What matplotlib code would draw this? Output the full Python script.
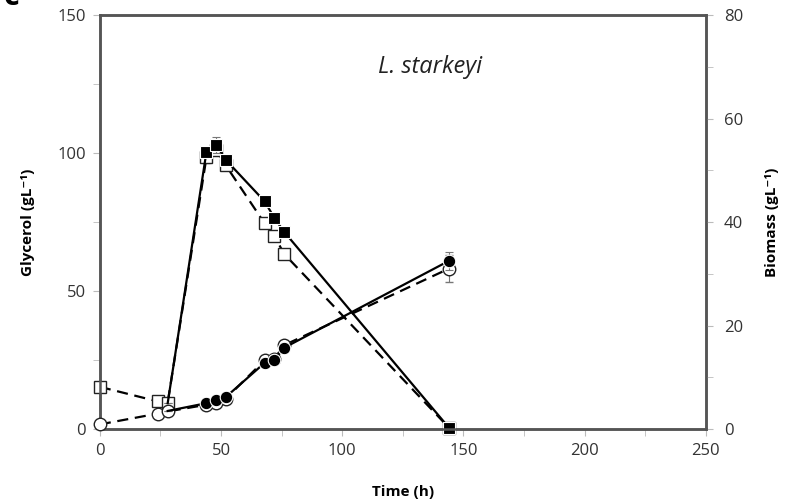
import matplotlib
matplotlib.use("Agg")
import matplotlib.pyplot as plt
from matplotlib.ticker import MultipleLocator

plt.rcParams['font.family'] = ['Open Sans', 'DejaVu Sans']

# glycerol, filled squares (solid line)
time_gly_fill = [28, 44, 48, 52, 68, 72, 76, 144]
gly_fill = [9.4, 100.5, 103.0, 97.5, 82.5, 76.5, 71.5, 0.5]
gly_fill_err = [0, 0, 3.0, 0, 0, 0, 0, 0]

# glycerol, open squares (dashed line)
time_gly_open = [0, 24, 28, 44, 48, 52, 68, 72, 76, 144]
gly_open = [15.3, 10.0, 9.6, 98.5, 101.0, 95.5, 74.5, 70.0, 63.5, 0.5]
gly_open_err = [0, 0, 0, 2.0, 0, 0, 0, 0, 0, 0]

# biomass, filled circles (solid line)
time_bio_fill = [28, 44, 48, 52, 68, 72, 76, 144]
bio_fill = [3.5, 5.0, 5.6, 6.2, 12.8, 13.3, 15.7, 32.5]
bio_fill_err = [0, 0, 0, 0, 0, 0, 0, 1.8]

# biomass, open circles (dashed line)
time_bio_open = [0, 24, 28, 44, 48, 52, 68, 72, 76, 144]
bio_open = [0.9, 3.0, 3.4, 4.7, 5.1, 5.9, 13.3, 13.6, 16.2, 31.0]
bio_open_err = [0, 0, 0, 0, 0, 0, 0, 0, 0, 2.6]

fig = plt.figure(figsize=(7.86, 5.03), dpi=100)
ax = fig.add_axes([0.127, 0.147, 0.771, 0.823])
ax2 = ax.twinx()

ms = 9
dash = (0, (5, 3))
ecol = '#777777'


def no_clip(container):
    for part in container.get_children():
        part.set_clip_on(False)


no_clip(ax.errorbar(time_gly_open, gly_open, yerr=gly_open_err, color='black', lw=1.6,
                    ls=dash, marker='s', ms=ms, mfc='white', mec='#222222', mew=1,
                    ecolor=ecol, elinewidth=0.8, capsize=3, zorder=3))
no_clip(ax.errorbar(time_gly_fill, gly_fill, yerr=gly_fill_err, color='black', lw=1.6,
                    ls='-', marker='s', ms=ms, mfc='black', mec='white', mew=0.8,
                    markevery=list(range(1, len(time_gly_fill))),
                    ecolor=ecol, elinewidth=0.8, capsize=3, zorder=4))

no_clip(ax2.errorbar(time_bio_open, bio_open, yerr=bio_open_err, color='black', lw=1.6,
                     ls=dash, marker='o', ms=ms, mfc='white', mec='#222222', mew=1,
                     ecolor=ecol, elinewidth=0.8, capsize=3, zorder=3))
no_clip(ax2.errorbar(time_bio_fill, bio_fill, yerr=bio_fill_err, color='black', lw=1.6,
                     ls='-', marker='o', ms=ms, mfc='black', mec='white', mew=0.8,
                     markevery=list(range(1, len(time_bio_fill))),
                     ecolor=ecol, elinewidth=0.8, capsize=3, zorder=4))

ax.set_xlim(0, 250)
ax.set_ylim(0, 150)
ax2.set_ylim(0, 80)
ax.xaxis.set_major_locator(MultipleLocator(50))
ax.xaxis.set_minor_locator(MultipleLocator(25))
ax.yaxis.set_major_locator(MultipleLocator(50))
ax.yaxis.set_minor_locator(MultipleLocator(25))
ax2.yaxis.set_major_locator(MultipleLocator(20))
ax2.yaxis.set_minor_locator(MultipleLocator(10))

for a in (ax, ax2):
    for s in a.spines.values():
        s.set_color('#555555')
        s.set_linewidth(1.8)
    a.tick_params(which='both', direction='out', color='#bbbbbb', labelsize=12,
                  labelcolor='#333333', length=5, pad=5)
ax2.tick_params(axis='y', pad=8)

ax.set_xlabel('Time (h)', fontsize=11, fontweight='bold', labelpad=19)
ax.set_ylabel('Glycerol (gL⁻¹)', fontsize=11, fontweight='bold', labelpad=16)
ax2.set_ylabel('Biomass (gL⁻¹)', fontsize=11, fontweight='bold', labelpad=16)

ax.text(0.545, 0.875, 'L. starkeyi', transform=ax.transAxes, fontsize=17,
        style='italic', ha='center', va='center', color='#222222')

fig.text(0.004, 0.99, 'c', fontsize=22, fontweight='bold', va='baseline')

fig.savefig('out.png', dpi=100)
